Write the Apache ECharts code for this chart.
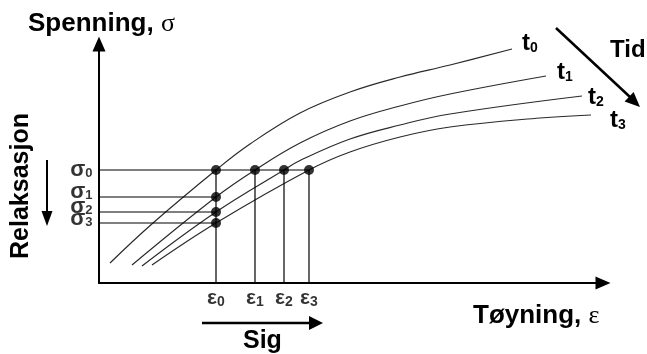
<!DOCTYPE html>
<html><head><meta charset="utf-8">
<script src="https://cdn.jsdelivr.net/npm/echarts@6/dist/echarts.min.js"></script>
<style>html,body{margin:0;padding:0;background:#fff}#c{width:647px;height:354px}</style>
</head><body><div id="c"></div>
<script>
// Stress levels (σ0..σ3) and strain levels (ε0..ε3), in chart units
const sigmaLevels = [113, 86, 71, 60];
const epsLevels = [117, 156, 185, 210];
const levelSubs = ['0', '1', '2', '3'];
const curveNames = ['t0', 't1', 't2', 't3'];
// Stress-strain curves at increasing time t0..t3 ([strain, stress])
const curveT0 = [[11,20],[54,60],[117,113],[151,139],[201,170],[251,191],[301,206],[351,218],[413,234]];
const curveT1 = [[33,18],[117,86],[156,113],[201,140],[251,162],[301,177],[351,189],[447,207]];
const curveT2 = [[43,17],[117,71],[185,113],[201,122.5],[251,144],[301,158],[351,169],[483,187]];
const curveT3 = [[53,18],[117,60],[210,113],[251,131],[301,146],[351,156],[441,165],[492,168]];
const curves = [curveT0, curveT1, curveT2, curveT3];

const FONT = 'Liberation Sans, Arial, sans-serif';
const endLabelOffsets = [[10,-6],[11,-4],[6,1],[19,5]];
const sigmaLabelDy = [0, -5, -5, -4];

const chart = echarts.init(document.getElementById('c'), null, {renderer: 'canvas'});

const series = [];
// Curves
curves.forEach((c, i) => {
  series.push({
    type: 'line', name: curveNames[i], data: c, smooth: 0.4, symbol: 'none', silent: true,
    lineStyle: {color: '#2a2a2a', width: 1.2}, clip: false, z: 2,
    endLabel: {
      show: true, distance: 0, offset: endLabelOffsets[i],
      formatter: '{t|t}{d|' + levelSubs[i] + '}',
      rich: {
        t: {fontFamily: FONT, fontWeight: 'bold', fontSize: 24, lineHeight: 24, color: '#000'},
        d: {fontFamily: FONT, fontWeight: 'bold', fontSize: 14, lineHeight: 24, verticalAlign: 'bottom', color: '#000'}
      }
    }
  });
});
// Guide lines
const guide = (pts) => ({type: 'line', data: pts, symbol: 'none', silent: true, clip: false, z: 3,
  lineStyle: {color: '#000', width: 1.2}});
series.push(guide([[0, sigmaLevels[0]], [epsLevels[3], sigmaLevels[0]]]));
for (let i = 1; i < sigmaLevels.length; i++) {
  series.push(guide([[0, sigmaLevels[i]], [epsLevels[0], sigmaLevels[i]]]));
}
epsLevels.forEach((e) => series.push(guide([[e, 0], [e, sigmaLevels[0]]])));
// Dots
const dots = sigmaLevels.map(s => [epsLevels[0], s]).concat(epsLevels.slice(1).map(e => [e, sigmaLevels[0]]));
series.push({type: 'scatter', data: dots, symbolSize: 10, itemStyle: {color: '#000'}, silent: true, clip: false, z: 5});
// σ labels
series.push({
  type: 'scatter', symbolSize: 1, itemStyle: {color: 'rgba(0,0,0,0)'}, silent: true, clip: false,
  data: sigmaLevels.map((s, i) => ({value: [0, s], label: {offset: [0, sigmaLabelDy[i]], formatter: '{s|σ}{d|' + levelSubs[i] + '}'}})),
  label: {
    show: true, position: 'left', distance: 6,
    rich: {
      s: {fontFamily: FONT, fontWeight: 'bold', fontSize: 22, lineHeight: 20, color: '#000'},
      d: {fontFamily: FONT, fontWeight: 'bold', fontSize: 13, lineHeight: 20, verticalAlign: 'bottom', color: '#000'}
    }
  }
});
// ε labels
series.push({
  type: 'scatter', symbolSize: 1, itemStyle: {color: 'rgba(0,0,0,0)'}, silent: true, clip: false,
  data: epsLevels.map((e, i) => ({value: [e, 0], label: {formatter: '{s|ε}{d|' + levelSubs[i] + '}'}})),
  label: {
    show: true, position: 'bottom', distance: 4,
    rich: {
      s: {fontFamily: FONT, fontWeight: 'bold', fontSize: 21, lineHeight: 22, color: '#000'},
      d: {fontFamily: FONT, fontWeight: 'bold', fontSize: 14, lineHeight: 22, verticalAlign: 'bottom', color: '#000'}
    }
  }
});

const axisCommon = {
  type: 'value', axisTick: {show: false}, axisLabel: {show: false}, splitLine: {show: false},
  axisLine: {show: true, onZero: false, symbol: ['none', 'triangle'], symbolSize: [13, 15],
    lineStyle: {color: '#000', width: 2}}
};

const txt = (x, y, text, size, opts) => Object.assign({
  type: 'text', x: x, y: y,
  style: {text: text, fontFamily: FONT, fontWeight: 'bold', fontSize: size, fill: '#000',
    textAlign: 'left', textVerticalAlign: 'middle'}
}, opts || {});

chart.setOption({
  animation: false,
  backgroundColor: '#fff',
  grid: {left: 99, right: 44, top: 44, bottom: 71},
  xAxis: Object.assign({}, axisCommon, {min: 0, max: 504}),
  yAxis: Object.assign({}, axisCommon, {min: 0, max: 239}),
  series: series,
  graphic: [
    {type: 'text', x: 28, y: 24, style: {
      text: '{a|Spenning, }{b|σ}', textVerticalAlign: 'middle',
      rich: {a: {fontFamily: FONT, fontWeight: 'bold', fontSize: 26, fill: '#000'},
             b: {fontFamily: 'Liberation Serif, serif', fontSize: 26, fill: '#000'}}}},
    {type: 'text', x: 473, y: 316, style: {
      text: '{a|Tøyning, }{b|ε}', textVerticalAlign: 'middle',
      rich: {a: {fontFamily: FONT, fontWeight: 'bold', fontSize: 26, fill: '#000'},
             b: {fontFamily: 'Liberation Serif, serif', fontSize: 26, fill: '#000'}}}},
    txt(610, 50, 'Tid', 24),
    txt(243, 341, 'Sig', 25),
    txt(21, 186, 'Relaksasjon', 25, {rotation: Math.PI / 2, style: {text: 'Relaksasjon', fontFamily: FONT, fontWeight: 'bold', fontSize: 25, fill: '#000', textAlign: 'center', textVerticalAlign: 'middle'}}),
    // Tid arrow
    {type: 'line', shape: {x1: 556, y1: 28, x2: 630, y2: 97}, style: {stroke: '#000', lineWidth: 2.5}},
    {type: 'polygon', shape: {points: [[640, 107], [624.6, 101.4], [633.6, 92]]}, style: {fill: '#000'}},
    // Sig arrow
    {type: 'line', shape: {x1: 202, y1: 323, x2: 311, y2: 323}, style: {stroke: '#000', lineWidth: 2.5}},
    {type: 'polygon', shape: {points: [[323, 323], [309, 316], [309, 330]]}, style: {fill: '#000'}},
    // Relaksasjon arrow
    {type: 'line', shape: {x1: 47, y1: 160, x2: 47, y2: 213}, style: {stroke: '#000', lineWidth: 2}},
    {type: 'polygon', shape: {points: [[47, 226], [41.5, 211], [52.5, 211]]}, style: {fill: '#000'}}
  ]
});
</script>
</body></html>
